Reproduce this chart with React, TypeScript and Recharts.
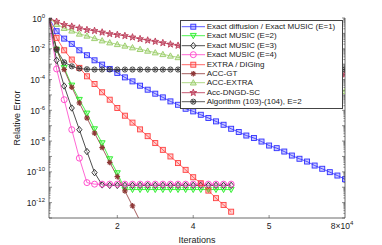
import React from 'react';
import { LineChart, Line, XAxis, YAxis, Legend } from 'recharts';

// x positions in units of 10^4 iterations
const iterations = [0.2, 0.4, 0.6, 0.8, 1.0, 1.2, 1.4, 1.6, 1.8, 2.0, 2.2, 2.4, 2.6, 2.8, 3.0, 3.2, 3.4, 3.6, 3.8, 4.0, 4.2, 4.4, 4.6, 4.8, 5.0, 5.2, 5.4, 5.6, 5.8, 6.0, 6.2, 6.4, 6.6, 6.8, 7.0, 7.2, 7.4, 7.6, 7.8, 8.0];

// log10(relative error) per series
const exactDiffusionE1 = [0, -0.86, -1.34, -1.68, -2.10, -2.42, -2.75, -3.03, -3.31, -3.57, -3.86, -4.12, -4.40, -4.66, -4.92, -5.16, -5.42, -5.64, -5.90, -6.07, -6.29, -6.50, -6.72, -6.94, -7.20, -7.41, -7.64, -7.80, -8.03, -8.29, -8.46, -8.68, -8.94, -9.15, -9.33, -9.59, -9.80, -10.02, -10.24, -10.48];
const exactMusicE2 = [0, -2.05, -3.24, -4.38, -5.31, -6.20, -7.22, -8.13, -9.17, -10.08, -11.13, -11.15, -11.15, -11.15, -11.15, -11.15, -11.15, -11.15, -11.15, -11.15, -11.15, -11.15, -11.15, -11.15, -11.15];
const exactMusicE3 = [0, -2.75, -4.42, -5.85, -7.26, -8.68, -10.05, -10.85, -10.88, -10.88, -10.88, -10.88, -10.88, -10.88, -10.88, -10.88, -10.88, -10.88, -10.88, -10.88, -10.88, -10.88, -10.88, -10.88, -10.88];
const exactMusicE4 = [0, -3.31, -5.31, -7.26, -9.11, -10.70, -10.80, -10.80, -10.80, -10.80, -10.80, -10.80, -10.80, -10.80, -10.80, -10.80, -10.80, -10.80, -10.80, -10.80, -10.80, -10.80, -10.80, -10.80, -10.80];
const extraDiging = [0, -1.29, -2.10, -2.70, -3.24, -3.79, -4.29, -4.83, -5.31, -5.85, -6.35, -6.80, -7.24, -7.68, -8.13, -8.57, -9.00, -9.43, -9.87, -10.35, -10.74, -11.22, -11.71, -12.15, -12.59];
const accGT = [0, -2.00, -3.35, -4.50, -5.52, -6.50, -7.48, -8.42, -9.39, -10.31, -11.24, -12.21, -13.20];
const accExtra = [0, -0.40, -0.66, -0.83, -1.03, -1.16, -1.32, -1.47, -1.60, -1.71, -1.81, -1.92, -2.03, -2.14, -2.25, -2.36, -2.46, -2.56, -2.66, -2.76, -2.86, -2.96, -3.06, -3.16, -3.26, -3.36, -3.46, -3.56, -3.66, -3.76, -3.86, -3.96, -4.06, -4.16, -4.26, -4.36, -4.46, -4.56, -4.66, -4.76];
const accDngdSc = [0, -0.23, -0.44, -0.55, -0.66, -0.77, -0.83, -0.93, -1.03, -1.09, -1.16, -1.25, -1.36, -1.45, -1.53, -1.62, -1.71, -1.79, -1.88, -1.96, -2.05, -2.13, -2.22, -2.30, -2.39, -2.47, -2.56, -2.64, -2.73, -2.81, -2.90, -2.98, -3.07, -3.15, -3.24, -3.32, -3.41, -3.49, -3.58, -3.66];
const algorithm103 = [0, -2.05, -2.88, -3.14, -3.29, -3.33, -3.35, -3.35, -3.35, -3.35, -3.35, -3.35, -3.35, -3.35, -3.35, -3.35, -3.35, -3.35, -3.35, -3.35, -3.35, -3.35, -3.35, -3.35, -3.35, -3.35, -3.35, -3.35, -3.35, -3.35, -3.35, -3.35, -3.35, -3.35, -3.35, -3.35, -3.35, -3.35, -3.35, -3.35];

const seriesNames = [
  'Exact diffusion / Exact MUSIC (E=1)',
  'Exact MUSIC (E=2)',
  'Exact MUSIC (E=3)',
  'Exact MUSIC (E=4)',
  'EXTRA / DIGing',
  'ACC-GT',
  'ACC-EXTRA',
  'Acc-DNGD-SC',
  'Algorithm (103)-(104), E=2',
];

const xTickValues = [2, 4, 6, 8];
const xTickLabels = ['2', '4', '5', '8\u00d710'];
const xTickSups = ['', '', '', '4'];
const yLabelExponents = [0, -2, -4, -6, -8, -10, -12];

type Shape = 'square' | 'triDown' | 'diamond' | 'circle' | 'triUp' | 'asterisk' | 'pentagram' | 'hexagram';

const seriesStyle: { key: string; color: string; shape: Shape; values: number[] }[] = [
  { key: 's1', color: '#3030ff', shape: 'square', values: exactDiffusionE1 },
  { key: 's2', color: '#22ee22', shape: 'triDown', values: exactMusicE2 },
  { key: 's3', color: '#222222', shape: 'diamond', values: exactMusicE3 },
  { key: 's4', color: '#ff40c8', shape: 'circle', values: exactMusicE4 },
  { key: 's5', color: '#ff4040', shape: 'square', values: extraDiging },
  { key: 's6', color: '#8e3636', shape: 'asterisk', values: accGT },
  { key: 's7', color: '#99cc66', shape: 'triUp', values: accExtra },
  { key: 's8', color: '#b8304e', shape: 'pentagram', values: accDngdSc },
  { key: 's9', color: '#333333', shape: 'hexagram', values: algorithm103 },
];

const rows = iterations.map((x, i) => {
  const r: Record<string, number | undefined> = { x };
  seriesStyle.forEach((s) => {
    r[s.key] = i < s.values.length ? Math.pow(10, s.values[i]) : undefined;
  });
  return r;
});

const yTicks: number[] = [1];
for (let k = -1; k >= -13; k--) {
  for (let m = 9; m >= 1; m--) yTicks.push(m * Math.pow(10, k));
}

const FONT = '"Liberation Sans", Arial, Helvetica, sans-serif';

function Marker({ shape, cx, cy, color }: { shape: Shape; cx: number; cy: number; color: string }) {
  const sw = 0.9;
  switch (shape) {
    case 'square':
      return <rect x={cx - 2.5} y={cy - 2.5} width={5} height={5} fill={color} fillOpacity={0.25} stroke={color} strokeWidth={sw} />;
    case 'triDown':
      return <polygon points={`${cx - 3},${cy - 2.3} ${cx + 3},${cy - 2.3} ${cx},${cy + 3}`} fill={color} fillOpacity={0.2} stroke={color} strokeWidth={sw} />;
    case 'triUp':
      return <polygon points={`${cx - 3},${cy + 2.3} ${cx + 3},${cy + 2.3} ${cx},${cy - 3}`} fill={color} fillOpacity={0.3} stroke={color} strokeWidth={sw} />;
    case 'diamond':
      return <polygon points={`${cx},${cy - 3.2} ${cx + 2.6},${cy} ${cx},${cy + 3.2} ${cx - 2.6},${cy}`} fill="#fff" fillOpacity={0.3} stroke={color} strokeWidth={sw} />;
    case 'circle':
      return <circle cx={cx} cy={cy} r={3} fill="none" stroke={color} strokeWidth={sw} />;
    case 'asterisk': {
      const r = 2.8;
      return (
        <g stroke={color} strokeWidth={1.2}>
          <line x1={cx - r} y1={cy} x2={cx + r} y2={cy} />
          <line x1={cx} y1={cy - r} x2={cx} y2={cy + r} />
          <line x1={cx - r * 0.7} y1={cy - r * 0.7} x2={cx + r * 0.7} y2={cy + r * 0.7} />
          <line x1={cx - r * 0.7} y1={cy + r * 0.7} x2={cx + r * 0.7} y2={cy - r * 0.7} />
        </g>
      );
    }
    case 'pentagram': {
      const pts: string[] = [];
      for (let j = 0; j < 10; j++) {
        const rr = j % 2 === 0 ? 3.6 : 1.5;
        const a = -Math.PI / 2 + (j * Math.PI) / 5;
        pts.push(`${cx + rr * Math.cos(a)},${cy + rr * Math.sin(a)}`);
      }
      return <polygon points={pts.join(' ')} fill={color} fillOpacity={0.5} stroke={color} strokeWidth={0.8} />;
    }
    case 'hexagram': {
      return (
        <g stroke={color} strokeWidth={0.8} fill="none">
          <circle cx={cx} cy={cy} r={2.6} />
          <line x1={cx - 2.6} y1={cy} x2={cx + 2.6} y2={cy} />
          <line x1={cx - 1.3} y1={cy - 2.25} x2={cx + 1.3} y2={cy + 2.25} />
          <line x1={cx - 1.3} y1={cy + 2.25} x2={cx + 1.3} y2={cy - 2.25} />
        </g>
      );
    }
  }
  return null;
}

const makeDot = (shape: Shape, color: string) => (p: any) => {
  const k = `${p.index}`;
  if (p.cx == null || p.cy == null || p.value == null) return <g key={k} />;
  return (
    <g key={k}>
      <Marker shape={shape} cx={p.cx} cy={p.cy} color={color} />
    </g>
  );
};

const AXIS = '#444';
const TXT = '#222';

const YTickLeft = (p: any) => {
  const v = p.payload.value as number;
  const e = Math.round(Math.log10(v));
  const major = Math.abs(v / Math.pow(10, e) - 1) < 1e-6;
  const len = major ? 3 : 1.6;
  const showLabel = major && yLabelExponents.includes(e);
  return (
    <g>
      <line x1={p.x} x2={p.x + len} y1={p.y} y2={p.y} stroke={AXIS} strokeWidth={0.6} />
      {showLabel && (
        <text x={p.x - 4} y={p.y + 3.5} textAnchor="end" fontSize={8.5} fill={TXT} fontFamily={FONT}>
          10<tspan dy={-4} fontSize={6}>{String(e)}</tspan>
        </text>
      )}
    </g>
  );
};

const YTickRight = (p: any) => {
  const v = p.payload.value as number;
  const e = Math.round(Math.log10(v));
  const major = Math.abs(v / Math.pow(10, e) - 1) < 1e-6;
  const len = major ? 3 : 1.6;
  return <line x1={p.x} x2={p.x - len} y1={p.y} y2={p.y} stroke={AXIS} strokeWidth={0.6} />;
};

const XTickBottom = (p: any) => {
  const idx = xTickValues.indexOf(p.payload.value);
  const last = idx === xTickValues.length - 1;
  return (
    <g>
      {!last && <line x1={p.x} x2={p.x} y1={p.y} y2={p.y - 3} stroke={AXIS} strokeWidth={0.6} />}
      <text x={last ? p.x - 3 : p.x} y={p.y + 11} textAnchor="middle" fontSize={8.5} fill={TXT} fontFamily={FONT}>
        {xTickLabels[idx]}
        {xTickSups[idx] ? <tspan dy={-4} fontSize={6}>{xTickSups[idx]}</tspan> : null}
      </text>
    </g>
  );
};

const XTickTop = (p: any) => {
  const idx = xTickValues.indexOf(p.payload.value);
  if (idx === xTickValues.length - 1) return <g />;
  return <line x1={p.x} x2={p.x} y1={p.y} y2={p.y + 3} stroke={AXIS} strokeWidth={0.6} />;
};

const LegendBox = () => (
  <div
    style={{
      width: 163,
      height: 89,
      boxSizing: 'border-box',
      border: '1px solid #444',
      background: '#fff',
      paddingTop: 1,
      fontFamily: FONT,
      fontSize: 8,
      color: TXT,
    }}
  >
    {seriesStyle.map((s, i) => (
      <div key={s.key} style={{ display: 'flex', alignItems: 'center', height: 9.4, lineHeight: '9.4px', whiteSpace: 'nowrap' }}>
        <svg width={25.7} height={9.4} style={{ display: 'block', flex: 'none' }}>
          <line x1={0.7} x2={24} y1={4.7} y2={4.7} stroke={s.color} strokeWidth={0.8} />
          <Marker shape={s.shape} cx={12.3} cy={4.7} color={s.color} />
        </svg>
        <span>{seriesNames[i]}</span>
      </div>
    ))}
  </div>
);

export default function App() {
  return (
    <div style={{ position: 'absolute', left: 0, top: 0, background: '#fff' }}>
      <LineChart width={382} height={245} data={rows} margin={{ top: 18, right: 0, bottom: 0, left: 0 }}>
        <XAxis
          xAxisId="b"
          dataKey="x"
          type="number"
          domain={[0.2, 8]}
          ticks={xTickValues}
          interval={0}
          height={27}
          tickLine={false}
          tickSize={0}
          tickMargin={0}
          tick={XTickBottom}
          axisLine={{ stroke: AXIS, strokeWidth: 0.8 }}
          allowDataOverflow
          label={{
            content: (props: any) => {
              const vb = props.viewBox;
              return (
                <text x={vb.x + vb.width / 2} y={vb.y + 25} textAnchor="middle" fontSize={9} fill={TXT} fontFamily={FONT}>
                  Iterations
                </text>
              );
            },
          }}
        />
        <XAxis
          xAxisId="t"
          orientation="top"
          dataKey="x"
          type="number"
          domain={[0.2, 8]}
          ticks={xTickValues}
          interval={0}
          height={0}
          tickLine={false}
          tickSize={0}
          tickMargin={0}
          tick={XTickTop}
          axisLine={{ stroke: AXIS, strokeWidth: 0.8 }}
          allowDataOverflow
        />
        <YAxis
          yAxisId="l"
          width={49}
          type="number"
          scale="log"
          domain={[1e-13, 1]}
          allowDataOverflow
          ticks={yTicks}
          interval={0}
          tickLine={false}
          tickSize={0}
          tickMargin={0}
          tick={YTickLeft}
          axisLine={{ stroke: AXIS, strokeWidth: 0.8 }}
          label={{
            content: (props: any) => {
              const vb = props.viewBox;
              const cx = vb.x + 17;
              const cy = vb.y + vb.height / 2;
              return (
                <text x={cx} y={cy} transform={`rotate(-90 ${cx} ${cy})`} textAnchor="middle" dominantBaseline="central" fontSize={9} fill={TXT} fontFamily={FONT}>
                  Relative Error
                </text>
              );
            },
          }}
        />
        <YAxis
          yAxisId="r"
          orientation="right"
          width={37}
          type="number"
          scale="log"
          domain={[1e-13, 1]}
          allowDataOverflow
          ticks={yTicks}
          interval={0}
          tickLine={false}
          tickSize={0}
          tickMargin={0}
          tick={YTickRight}
          axisLine={{ stroke: AXIS, strokeWidth: 0.8 }}
        />
        {seriesStyle.map((s, i) => (
          <Line
            key={s.key}
            xAxisId="b"
            yAxisId="l"
            dataKey={s.key}
            name={seriesNames[i]}
            type="linear"
            stroke={s.color}
            strokeWidth={0.8}
            dot={makeDot(s.shape, s.color)}
            activeDot={false}
            connectNulls={false}
            isAnimationActive={false}
          />
        ))}
        <Legend
          layout="vertical"
          align="center"
          verticalAlign="middle"
          wrapperStyle={{ left: 180, top: 20, width: 163, height: 89 }}
          content={() => <LegendBox />}
        />
      </LineChart>
    </div>
  );
}
